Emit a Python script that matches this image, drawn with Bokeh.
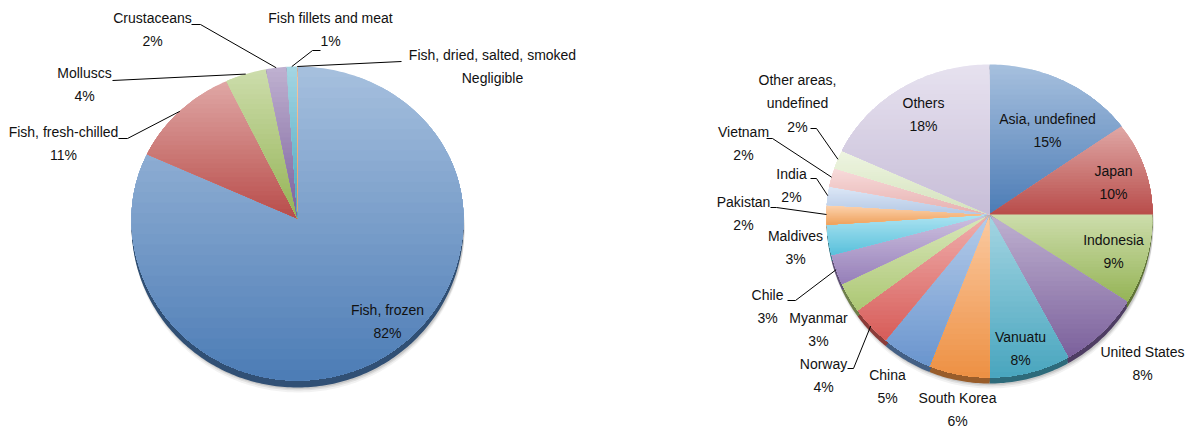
import numpy as np
from bokeh.plotting import figure
from bokeh.models import Range1d
from bokeh.embed import file_html
from bokeh.resources import INLINE
from bokeh.core.properties import value

# ---------------- data ----------------
prod_labels = ["Fish, frozen", "Fish, fresh-chilled", "Molluscs", "Crustaceans",
               "Fish fillets and meat", "Fish, dried, salted, smoked"]
prod_values = [82, 11, 4, 2, 1, 0.05]
prod_pct = ["82%", "11%", "4%", "2%", "1%", "Negligible"]

dest_labels = ["Asia, undefined", "Japan", "Indonesia", "United States", "Vanuatu",
               "South Korea", "China", "Norway", "Myanmar", "Chile", "Maldives",
               "Pakistan", "India", "Vietnam", "Other areas, undefined", "Others"]
dest_values = [15, 10, 9, 8, 8, 6, 5, 4, 3, 3, 3, 2, 2, 2, 2, 18]

# ---------------- styles / layout ----------------
FONT = "Liberation Sans"
prod_colors = ["#4F81BD", "#C0504D", "#9BBB59", "#8064A2", "#4BACC6", "#F79646"]
dest_colors = ["#4F81BD", "#C0504D", "#9BBB59", "#8064A2", "#4BACC6", "#F79646",
               "#6E9BD6", "#E0605C", "#B3CF78", "#9C84C0", "#5CC8E4", "#F9A860",
               "#BBD0EE", "#F0B8B7", "#DDEBC4", "#CFC5E0"]

# label block centres (layout) and leader-line starts (None = no leader)
prod_lab_pos = [(387, 321), (63, 143), (84, 84), (152, 29), (330, 29), (492, 66)]
prod_lead = [None, [(118, 138), (127, 138)], [(112, 80)], [(191, 24), (200, 24)],
             [(320, 50), (312, 50)], [(401, 61)]]
dest_lab_pos = [(1047, 130), (1113, 182), (1113, 251), (1142, 363), (1020, 348),
                (957, 409), (887, 386), (823, 375), (818, 329), (767, 306),
                (795, 247), (743, 213), (791, 185), (743, 143), (797, 103), (923, 114)]
dest_lead = [None, None, None, None, None, None, None,
             [(847, 368), (853, 368)], None, [(787, 300), (795, 300)], None,
             [(770, 207), (776, 207)], [(810, 178), (816, 178)],
             [(766, 138), (772, 138)], [(810, 128), (816, 128)], None]


def lighten(c, f):
    r, g, b = int(c[1:3], 16), int(c[3:5], 16), int(c[5:7], 16)
    return np.array([r + (255 - r) * f, g + (255 - g) * f, b + (255 - b) * f])


def darken(c, f):
    r, g, b = int(c[1:3], 16), int(c[3:5], 16), int(c[5:7], 16)
    return np.array([r * f, g * f, b * f])


def hexc(a):
    a = np.clip(np.round(a), 0, 255).astype(int)
    return "#%02x%02x%02x" % tuple(a)


def arc(geo, a0, a1, n):
    cx, cy, rx, ryt, ryb = geo
    t = np.linspace(a0, a1, n)
    c = np.cos(t)
    x = cx + rx * np.sin(t)
    y = cy - np.where(c > 0, ryt, ryb) * c
    return x, y


def clip_below(pts, yl):
    """keep the part of polygon with y >= yl (screen y, downward)"""
    out = []
    n = len(pts)
    for i in range(n):
        cur = pts[i]
        prev = pts[i - 1]
        ci, pi = cur[1] >= yl, prev[1] >= yl
        if ci:
            if not pi:
                t = (yl - prev[1]) / (cur[1] - prev[1])
                out.append((prev[0] + t * (cur[0] - prev[0]), yl))
            out.append(cur)
        elif pi:
            t = (yl - prev[1]) / (cur[1] - prev[1])
            out.append((prev[0] + t * (cur[0] - prev[0]), yl))
    return out


def draw_pie(p, geo, values, colors, depth, lab_pos, lead, labels, pct):
    cx, cy = geo[0], geo[1]
    vals = np.array(values, dtype=float)
    frac = vals / vals.sum()
    ends = np.cumsum(frac) * 2 * np.pi
    starts = ends - frac * 2 * np.pi
    polys = []
    for a0, a1 in zip(starts, ends):
        n = max(3, int((a1 - a0) / (2 * np.pi) * 360) + 2)
        x, y = arc(geo, a0, a1, n)
        polys.append([(cx, cy)] + list(zip(x, y)))
    # soft shadow
    ox, oy = arc(geo, 0, 2 * np.pi, 240)
    for k, al in [(depth + 5, 0.05), (depth + 3, 0.08), (depth + 1.5, 0.10)]:
        p.patch(list(ox + 1), list(oy + k), fill_color="#000000", fill_alpha=al,
                line_color=None)
    # side (3D rim)
    sx, sy, sc = [], [], []
    for poly, col in zip(polys, colors):
        for d in np.linspace(depth, 1, 4):
            sx.append([q[0] for q in poly])
            sy.append([q[1] + d for q in poly])
            sc.append(hexc(darken(col, 0.62)))
    p.patches(sx, sy, fill_color=sc, line_color=None)
    # top face with vertical gradient per slice (overlapping bands, top to bottom)
    bx, by, bc = [], [], []
    nb = 30
    for poly, col in zip(polys, colors):
        ys = [q[1] for q in poly]
        y0, y1 = min(ys), max(ys)
        top = lighten(col, 0.5)
        bot = darken(col, 0.96)
        edges = np.linspace(y0, y1, nb + 1)
        for i in range(nb):
            piece = poly if i == 0 else clip_below(poly, edges[i])
            if len(piece) < 3:
                continue
            t = (i + 0.5) / nb
            cc = hexc(top * (1 - t) + bot * t)
            bx.append([q[0] for q in piece])
            by.append([q[1] for q in piece])
            bc.append(cc)
    p.patches(bx, by, fill_color=bc, line_color=None)
    # leader lines
    for a0, a1, ld in zip(starts, ends, lead):
        if ld is None:
            continue
        mx, my = arc(geo, (a0 + a1) / 2, (a0 + a1) / 2, 1)
        xs = [q[0] for q in ld] + [float(mx[0])]
        ys = [q[1] for q in ld] + [float(my[0])]
        p.line(xs, ys, line_color="#000000", line_width=1)
    # labels
    texts = []
    for lab, pc in zip(labels, pct):
        if lab == "Other areas, undefined":
            texts.append("Other areas,\nundefined\n" + pc)
        else:
            texts.append(lab + "\n" + pc)
    p.text(x=[q[0] for q in lab_pos], y=[q[1] for q in lab_pos], text=texts,
           text_align="center", text_baseline="middle",
           text_font=value(FONT), text_font_size="14px", text_color="#111111",
           text_line_height=1.45)


p = figure(width=1191, height=429, output_backend="svg", toolbar_location=None,
           x_range=Range1d(0, 1191), y_range=Range1d(429, 0),
           min_border=0, outline_line_color=None)
p.axis.visible = False
p.grid.visible = False
p.background_fill_color = "white"

draw_pie(p, (297, 218, 166, 152, 162), prod_values, prod_colors, 7,
         prod_lab_pos, prod_lead, prod_labels, prod_pct)
draw_pie(p, (989, 214, 163, 150, 163), dest_values, dest_colors, 6,
         dest_lab_pos, dest_lead, dest_labels,
         ["%d%%" % v for v in dest_values])

open("out.html", "w").write(file_html(p, INLINE))
